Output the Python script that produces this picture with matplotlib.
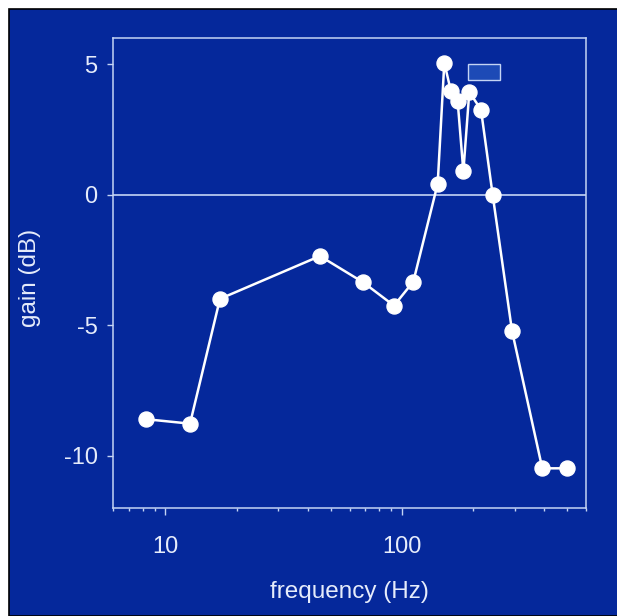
import matplotlib
matplotlib.use("Agg")
import matplotlib.pyplot as plt
from matplotlib.patches import Rectangle
from matplotlib.ticker import LogLocator, NullFormatter, FixedLocator

plt.rcParams['font.family'] = ['Liberation Sans', 'DejaVu Sans']

freq = [8.3, 12.7, 17.0, 45.0, 68.6, 92.5, 111.7, 141.6, 151, 161, 172, 181.8, 192.6, 215.8, 242, 292, 392, 497]
gain = [-8.6, -8.77, -3.99, -2.35, -3.36, -4.25, -3.33, 0.42, 5.05, 3.97, 3.57, 0.89, 3.93, 3.26, -0.03, -5.22, -10.48, -10.48]

band_freq = [190, 260]
band_gain = [4.4, 5.0]

x_ticks = [10, 100]
x_ticklabels = ["10", "100"]
y_ticks = [-10, -5, 0, 5]
y_ticklabels = ["-10", "-5", "0", "5"]

BG = "#05289b"
FG = "#c4d4f4"
TXT = "#e6ecfb"

fig = plt.figure(figsize=(6.17, 6.16), dpi=100)
fig.patch.set_facecolor("white")
fig.patches.append(Rectangle((9/617, 0), 1 - 9/617 + 0.01, 1 - 9/616, transform=fig.transFigure,
                             facecolor=BG, edgecolor="black", linewidth=1.2, zorder=-5))

ax = fig.add_axes([113/617, 1 - 508/616, (586 - 113)/617, (508 - 38)/616])
ax.set_zorder(5)
ax.set_facecolor(BG)
ax.set_xscale("log")
ax.set_xlim(6, 600)
ax.set_ylim(-12, 6)

for s in ax.spines.values():
    s.set_color(FG)
    s.set_linewidth(1.1)

ax.axhline(0, color=FG, linewidth=1.2, zorder=1)

ax.add_patch(Rectangle((band_freq[0], band_gain[0]), band_freq[1] - band_freq[0], band_gain[1] - band_gain[0],
                       facecolor="#1d4ab6", edgecolor=FG, linewidth=1.0, zorder=2))

ax.plot(freq, gain, color="white", linewidth=1.8, marker="o", markersize=10.8,
        markerfacecolor="white", markeredgecolor="white", zorder=3, clip_on=False)

ax.xaxis.set_major_locator(FixedLocator(x_ticks))
ax.set_xticklabels(x_ticklabels)
ax.xaxis.set_minor_locator(LogLocator(base=10, subs=[2, 3, 4, 5, 6, 7, 8, 9]))
ax.xaxis.set_minor_formatter(NullFormatter())
ax.set_yticks(y_ticks)
ax.set_yticklabels(y_ticklabels)

ax.tick_params(axis="x", which="major", direction="out", length=5, width=1.0, color=FG,
               labelcolor=TXT, labelsize=17, pad=15)
ax.tick_params(axis="x", which="minor", direction="out", length=2.5, width=1.0, color=FG)
ax.tick_params(axis="y", which="major", direction="out", length=4, width=1.0, color=FG,
               labelcolor=TXT, labelsize=17, pad=7)
ax.tick_params(axis="y", which="minor", left=False)

ax.set_xlabel("frequency (Hz)", color=TXT, fontsize=17.5, labelpad=17)
ax.set_ylabel("gain (dB)", color=TXT, fontsize=17.5)
ax.yaxis.set_label_coords(-0.152, 0.49)

fig.savefig("out.png", dpi=100, facecolor=fig.get_facecolor())
